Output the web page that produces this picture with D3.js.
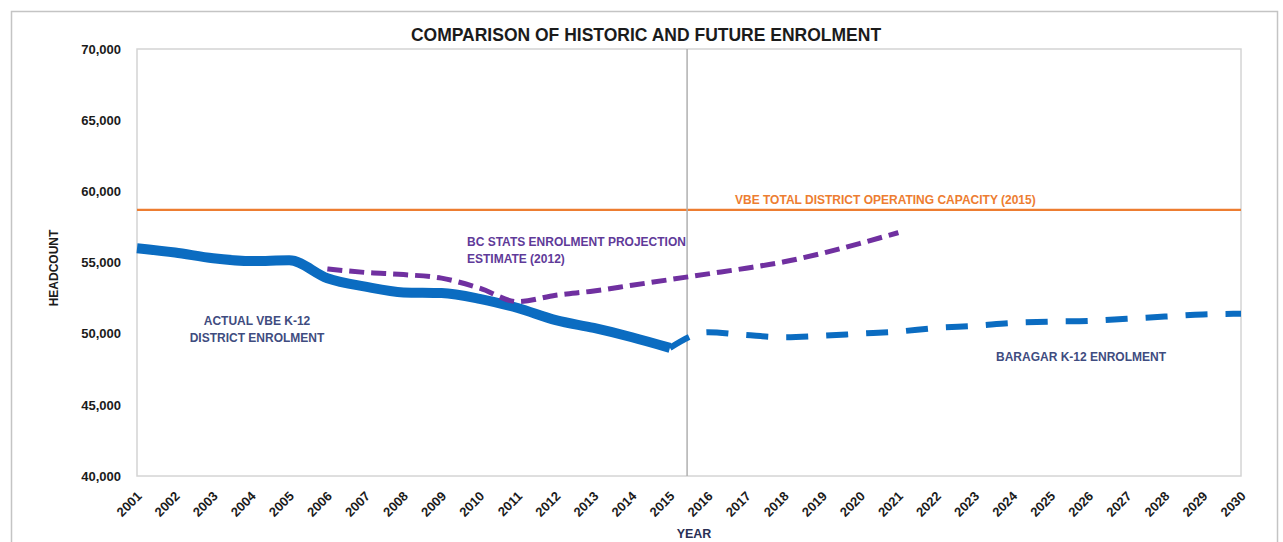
<!DOCTYPE html>
<html>
<head>
<meta charset="utf-8">
<script src="https://cdn.jsdelivr.net/npm/d3@7"></script>
<style>
  body { margin: 0; background: #fff; }
  svg text { font-family: "Liberation Sans", Arial, sans-serif; font-weight: bold; }
</style>
</head>
<body>
<div id="chart"></div>
<script>
// Category axis (years)
var years = [2001, 2002, 2003, 2004, 2005, 2006, 2007, 2008, 2009, 2010,
             2011, 2012, 2013, 2014, 2015, 2016, 2017, 2018, 2019, 2020,
             2021, 2022, 2023, 2024, 2025, 2026, 2027, 2028, 2029, 2030];
var yTicks = [40000, 45000, 50000, 55000, 60000, 65000, 70000];

// Actual VBE K-12 district enrolment
var actualYears = [2001, 2002, 2003, 2004, 2005, 2006, 2007, 2008, 2009, 2010, 2011, 2012, 2013, 2014, 2015];
var actualValues = [56000, 55700, 55300, 55100, 55150, 53900, 53300, 52900, 52850, 52450, 51800, 50950, 50400, 49750, 49000];

// BC Stats enrolment projection estimate (2012)
var bcYears = [2006, 2007, 2008, 2009, 2010, 2011, 2012, 2013, 2014, 2015, 2016, 2017, 2018, 2019, 2020, 2021];
var bcValues = [54550, 54300, 54150, 53900, 53200, 52250, 52700, 53000, 53400, 53800, 54200, 54600, 55050, 55650, 56350, 57100];

// Baragar K-12 enrolment
var baragarYears = [2015, 2016, 2017, 2018, 2019, 2020, 2021, 2022, 2023, 2024, 2025, 2026, 2027, 2028, 2029, 2030];
var baragarValues = [49000, 50100, 49900, 49750, 49850, 50000, 50150, 50400, 50550, 50750, 50850, 50900, 51050, 51200, 51350, 51400];

// VBE total district operating capacity (2015)
var capacity = 58700;
var dividerYear = 2015.45;

var svgWidth = 1283;
var svgHeight = 542;

var margin = { top: 49, right: 42, bottom: 66, left: 137 };
var width = svgWidth - margin.left - margin.right;
var height = svgHeight - margin.top - margin.bottom;

var svg = d3.select("#chart")
  .append("svg")
  .attr("width", svgWidth)
  .attr("height", svgHeight);

// outer chart frame
svg.append("rect")
  .attr("x", 11.5)
  .attr("y", 11.5)
  .attr("width", 1266)
  .attr("height", 560)
  .attr("fill", "none")
  .attr("stroke", "#c4c4c4")
  .attr("stroke-width", 1.5);

svg.append("text")
  .attr("x", 646)
  .attr("y", 41)
  .attr("text-anchor", "middle")
  .style("font-size", "17.5px")
  .style("fill", "#1b1b1b")
  .text("COMPARISON OF HISTORIC AND FUTURE ENROLMENT");

var chartGroup = svg.append("g")
  .attr("transform", `translate(${margin.left}, ${margin.top})`);

var xScale = d3.scaleLinear()
  .domain([years[0], years[years.length - 1]])
  .range([0, width]);

var yScale = d3.scaleLinear()
  .domain([40000, 70000])
  .range([height, 0]);

// plot area border
chartGroup.append("rect")
  .attr("width", width)
  .attr("height", height)
  .attr("fill", "none")
  .attr("stroke", "#d4d4d4")
  .attr("stroke-width", 1.5);

// axes
var leftAxis = d3.axisLeft(yScale)
  .tickValues(yTicks)
  .tickSize(0)
  .tickPadding(16)
  .tickFormat(d3.format(","));

var yAxisG = chartGroup.append("g").call(leftAxis);
yAxisG.select(".domain").remove();
yAxisG.selectAll("text")
  .style("font-size", "13px")
  .style("fill", "#1b1b1b");

var bottomAxis = d3.axisBottom(xScale)
  .tickValues(years)
  .tickSize(0)
  .tickFormat(d3.format("d"));

var xAxisG = chartGroup.append("g")
  .attr("transform", `translate(0, ${height})`)
  .call(bottomAxis);
xAxisG.select(".domain").remove();
xAxisG.selectAll("text")
  .attr("y", 0)
  .attr("dy", 0)
  .attr("transform", "translate(5, 21) rotate(-45)")
  .style("text-anchor", "end")
  .style("font-size", "13px")
  .style("fill", "#1b1b1b");

// axis titles
chartGroup.append("text")
  .attr("transform", `translate(${58 - margin.left}, ${268 - margin.top}) rotate(-90)`)
  .attr("text-anchor", "middle")
  .style("font-size", "12px")
  .style("fill", "#1b1b1b")
  .text("HEADCOUNT");

chartGroup.append("text")
  .attr("x", 694 - margin.left)
  .attr("y", 538 - margin.top)
  .attr("text-anchor", "middle")
  .style("font-size", "12.5px")
  .style("fill", "#2a2f55")
  .text("YEAR");

// capacity line
chartGroup.append("line")
  .attr("x1", 0)
  .attr("x2", width)
  .attr("y1", yScale(capacity))
  .attr("y2", yScale(capacity))
  .attr("stroke", "#ED7D31")
  .attr("stroke-width", 2.2);

// divider between historic and future
chartGroup.append("line")
  .attr("x1", xScale(dividerYear))
  .attr("x2", xScale(dividerYear))
  .attr("y1", 0)
  .attr("y2", height)
  .attr("stroke", "#b0b0b0")
  .attr("stroke-width", 1.5);

var line = d3.line()
  .x(d => xScale(d[0]))
  .y(d => yScale(d[1]))
  .curve(d3.curveMonotoneX);

chartGroup.append("path")
  .datum(actualYears.map((y, i) => [y, actualValues[i]]))
  .attr("d", line)
  .attr("fill", "none")
  .attr("stroke", "#0B6CC1")
  .attr("stroke-width", 10)
  .attr("stroke-linejoin", "round");

chartGroup.append("path")
  .datum(baragarYears.map((y, i) => [y, baragarValues[i]]))
  .attr("d", line)
  .attr("fill", "none")
  .attr("stroke", "#0B6CC1")
  .attr("stroke-width", 6)
  .attr("stroke-dasharray", "22,18");

chartGroup.append("path")
  .datum(bcYears.map((y, i) => [y, bcValues[i]]))
  .attr("d", line)
  .attr("fill", "none")
  .attr("stroke", "#7030A0")
  .attr("stroke-width", 5)
  .attr("stroke-dasharray", "15,7");

// annotations
function label(x, y, color, lines, anchor) {
  var t = chartGroup.append("text")
    .attr("x", x - margin.left)
    .attr("y", y - margin.top)
    .attr("text-anchor", anchor || "start")
    .style("font-size", "12px")
    .style("fill", color);
  lines.forEach(function(s, i) {
    t.append("tspan")
      .attr("x", x - margin.left)
      .attr("dy", i === 0 ? 0 : 17)
      .text(s);
  });
}

label(735, 204, "#ED7D31", ["VBE TOTAL DISTRICT OPERATING CAPACITY (2015)"]);
label(467, 246, "#5F3A99", ["BC STATS ENROLMENT PROJECTION", "ESTIMATE (2012)"]);
label(257, 325, "#3F4C80", ["ACTUAL VBE K-12", "DISTRICT ENROLMENT"], "middle");
label(996, 361, "#3F4C80", ["BARAGAR K-12 ENROLMENT"]);
</script>
</body>
</html>
